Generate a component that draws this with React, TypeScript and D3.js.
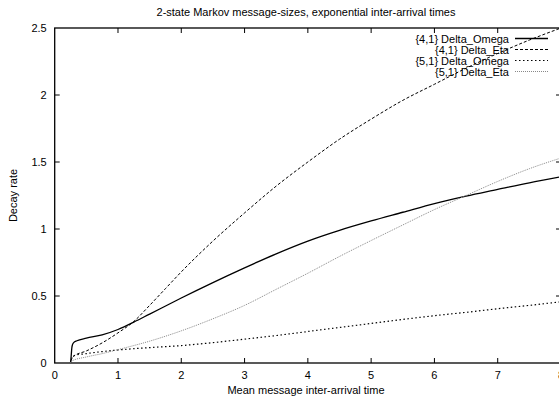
import { useEffect, useRef } from 'react';
import * as d3 from 'd3';

// Curve samples (x = mean inter-arrival time)
const omega41X = [0.25, 0.26, 0.27, 0.28, 0.3, 0.35, 0.5, 0.75, 1, 1.25, 1.5, 2, 2.5, 3, 3.5, 4, 4.5, 5, 5.5, 6, 6.5, 7, 7.5, 8];
const omega41Y = [0, 0.05, 0.11, 0.135, 0.152, 0.166, 0.185, 0.21, 0.25, 0.305, 0.365, 0.485, 0.6, 0.71, 0.815, 0.91, 0.99, 1.06, 1.125, 1.19, 1.245, 1.295, 1.345, 1.39];

const eta41X = [0.25, 0.27, 0.3, 0.5, 0.75, 1, 1.25, 1.5, 1.75, 2, 2.5, 3, 3.5, 4, 4.5, 5, 5.5, 6, 6.5, 7, 7.5, 8];
const eta41Y = [0.01, 0.03, 0.05, 0.09, 0.15, 0.225, 0.31, 0.43, 0.555, 0.68, 0.91, 1.12, 1.32, 1.5, 1.67, 1.82, 1.96, 2.08, 2.2, 2.31, 2.41, 2.5];

const omega51X = [0.25, 0.26, 0.28, 0.3, 0.5, 1, 1.5, 2, 2.5, 3, 3.5, 4, 4.5, 5, 5.5, 6, 6.5, 7, 7.5, 8];
const omega51Y = [0, 0.02, 0.045, 0.055, 0.07, 0.097, 0.115, 0.13, 0.152, 0.178, 0.205, 0.235, 0.265, 0.295, 0.325, 0.353, 0.378, 0.405, 0.43, 0.457];

const eta51X = [0.25, 0.27, 0.5, 0.75, 1, 1.5, 2, 2.5, 3, 3.5, 4, 4.5, 5, 5.5, 6, 6.5, 7, 7.5, 8];
const eta51Y = [0, 0.015, 0.045, 0.07, 0.1, 0.163, 0.24, 0.33, 0.43, 0.55, 0.67, 0.795, 0.914, 1.03, 1.145, 1.25, 1.355, 1.45, 1.53];

const seriesNames = ['{4,1} Delta_Omega', '{4,1} Delta_Eta', '{5,1} Delta_Omega', '{5,1} Delta_Eta'];
const xTicks = [0, 1, 2, 3, 4, 5, 6, 7, 8];
const yTicks = [0, 0.5, 1, 1.5, 2, 2.5];
const yTickLabels = ['0', '0.5', '1', '1.5', '2', '2.5'];

export default function App() {
  const svgRef = useRef<SVGSVGElement>(null);

  useEffect(() => {
    if (!svgRef.current) return;
    const width = 559;
    const height = 396;
    const margin = { top: 28, left: 54.7, bottom: 33 };
    const plotRight = 561;

    const svg = d3.select(svgRef.current);
    svg.selectAll('*').remove();
    svg.attr('width', width).attr('height', height);

    const font = 'Liberation Sans, Arial, sans-serif';

    const x = d3.scaleLinear().domain([0, 8]).range([margin.left, plotRight]);
    const y = d3.scaleLinear().domain([0, 2.5]).range([height - margin.bottom, margin.top]);

    svg.append('defs').append('clipPath').attr('id', 'plot-clip')
      .append('rect')
      .attr('x', x(0)).attr('y', y(2.5))
      .attr('width', x(8) - x(0)).attr('height', y(0) - y(2.5));

    // Border
    svg.append('rect')
      .attr('x', x(0)).attr('y', y(2.5))
      .attr('width', x(8) - x(0)).attr('height', y(0) - y(2.5))
      .attr('fill', 'none').attr('stroke', '#000').attr('stroke-width', 1.3);

    // Ticks (inward, mirrored)
    const tickLen = 5;
    const ticks = svg.append('g').attr('stroke', '#000').attr('stroke-width', 1);
    xTicks.slice(1, -1).forEach((t) => {
      ticks.append('line').attr('x1', x(t)).attr('x2', x(t)).attr('y1', y(0)).attr('y2', y(0) - tickLen);
      ticks.append('line').attr('x1', x(t)).attr('x2', x(t)).attr('y1', y(2.5)).attr('y2', y(2.5) + tickLen);
    });
    yTicks.slice(1, -1).forEach((t) => {
      ticks.append('line').attr('x1', x(0)).attr('x2', x(0) + tickLen).attr('y1', y(t)).attr('y2', y(t));
      ticks.append('line').attr('x1', x(8)).attr('x2', x(8) - tickLen).attr('y1', y(t)).attr('y2', y(t));
    });

    // Tick labels
    svg.append('g').selectAll('text').data(xTicks).enter().append('text')
      .attr('x', (d) => x(d)).attr('y', y(0) + 16)
      .attr('text-anchor', 'middle').attr('font-family', font).attr('font-size', 11)
      .text((d) => String(d));
    svg.append('g').selectAll('text').data(yTicks).enter().append('text')
      .attr('x', x(0) - 8).attr('y', (d) => y(d) + 4)
      .attr('text-anchor', 'end').attr('font-family', font).attr('font-size', 11)
      .text((_, i) => yTickLabels[i]);

    // Titles
    svg.append('text').attr('x', 306).attr('y', 16).attr('text-anchor', 'middle')
      .attr('font-family', font).attr('font-size', 11)
      .text('2-state Markov message-sizes, exponential inter-arrival times');
    svg.append('text').attr('x', 306).attr('y', 394).attr('text-anchor', 'middle')
      .attr('font-family', font).attr('font-size', 11)
      .text('Mean message inter-arrival time');
    svg.append('text').attr('transform', `translate(17,${(y(0) + y(2.5)) / 2}) rotate(-90)`)
      .attr('text-anchor', 'middle').attr('font-family', font).attr('font-size', 11)
      .text('Decay rate');

    const styles = [
      { stroke: '#000', dash: null, width: 1.3 },
      { stroke: '#000', dash: '3,2', width: 1 },
      { stroke: '#000', dash: '1.5,2.5', width: 1.2 },
      { stroke: '#888', dash: '1,1', width: 1 },
    ];
    const xs = [omega41X, eta41X, omega51X, eta51X];
    const ys = [omega41Y, eta41Y, omega51Y, eta51Y];

    const line = d3.line<[number, number]>()
      .x((d) => x(d[0])).y((d) => y(d[1]))
      .curve(d3.curveMonotoneX);

    const curves = svg.append('g').attr('clip-path', 'url(#plot-clip)');
    xs.forEach((xv, i) => {
      const pts = xv.map((v, j) => [v, ys[i][j]] as [number, number]);
      curves.append('path').attr('d', line(pts))
        .attr('fill', 'none').attr('stroke', styles[i].stroke)
        .attr('stroke-width', styles[i].width)
        .attr('stroke-dasharray', styles[i].dash);
    });

    // Legend
    const legend = svg.append('g');
    seriesNames.forEach((name, i) => {
      const ly = 38.5 + i * 11;
      legend.append('text').attr('x', 509).attr('y', ly + 4).attr('text-anchor', 'end')
        .attr('font-family', font).attr('font-size', 11).text(name);
      legend.append('line').attr('x1', 515).attr('x2', 548).attr('y1', ly).attr('y2', ly)
        .attr('stroke', styles[i].stroke).attr('stroke-width', styles[i].width)
        .attr('stroke-dasharray', styles[i].dash);
    });
  }, []);

  return (
    <>
      <style>{'body{margin:0;overflow:hidden}'}</style>
      <svg ref={svgRef} style={{ display: 'block', background: '#fff' }} />
    </>
  );
}
